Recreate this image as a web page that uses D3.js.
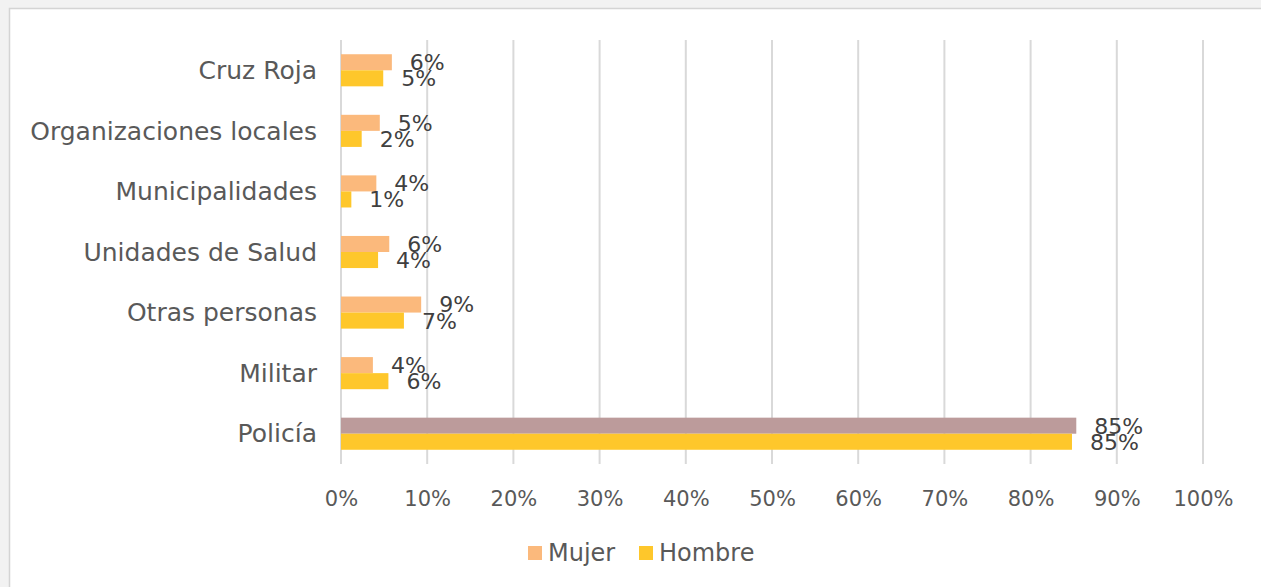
<!DOCTYPE html>
<html>
<head>
<meta charset="utf-8">
<script src="https://cdn.jsdelivr.net/npm/d3@7"></script>
<style>
    body { margin: 0; background: #f2f2f2; }
    svg { display: block; }
    text { font-family: "DejaVu Sans", sans-serif; }
</style>
</head>
<body>
<svg width="1261" height="587"></svg>
<script>
var categories = ["Cruz Roja", "Organizaciones locales", "Municipalidades", "Unidades de Salud", "Otras personas", "Militar", "Policía"];
var seriesNames = ["Mujer", "Hombre"];
var mujer = [5.9, 4.5, 4.1, 5.6, 9.3, 3.7, 85.3];
var hombre = [4.9, 2.4, 1.2, 4.3, 7.3, 5.5, 84.8];
var tickValues = [0, 10, 20, 30, 40, 50, 60, 70, 80, 90, 100];

var colors = { Mujer: "#fbb97c", Hombre: "#fec72b" };
var highlightColor = "#bc9b9b"; // Policía / Mujer bar
var highlightCategory = "Policía";

var svg = d3.select("svg");

// frame
svg.append("rect")
    .attr("x", 9.5)
    .attr("y", 8.5)
    .attr("width", 1300)
    .attr("height", 700)
    .attr("fill", "white")
    .attr("stroke", "#d4d4d4")
    .attr("stroke-width", 1.5);

var xScale = d3.scaleLinear().domain([0, 100]).range([341, 1203]);
var yScale = d3.scaleBand().domain(categories).range([40, 464]).paddingInner(0.47).paddingOuter(0.235);
var ySub = d3.scaleBand().domain(seriesNames).range([0, yScale.bandwidth()]);

// gridlines
svg.append("g")
    .selectAll("line")
    .data(tickValues)
    .enter()
    .append("line")
    .attr("x1", d => xScale(d))
    .attr("x2", d => xScale(d))
    .attr("y1", 40)
    .attr("y2", 464)
    .style("stroke", "#d9d9d9")
    .style("stroke-width", 2);

// x axis labels
var xAxis = d3.axisBottom()
    .scale(xScale)
    .tickValues(tickValues)
    .tickSize(0)
    .tickPadding(0)
    .tickFormat(d => d + "%");

var xAxisG = svg.append("g")
    .attr("transform", "translate(0,506)")
    .call(xAxis);
xAxisG.select(".domain").remove();
xAxisG.selectAll("text")
    .attr("dy", 0)
    .attr("y", 0)
    .style("font-size", "21px")
    .style("fill", "#595959")
    .style("font-family", "DejaVu Sans, sans-serif");

// y axis labels
var yAxis = d3.axisLeft()
    .scale(yScale)
    .tickSize(0)
    .tickPadding(0);

var yAxisG = svg.append("g")
    .attr("transform", "translate(317,0)")
    .call(yAxis);
yAxisG.select(".domain").remove();
yAxisG.selectAll("text")
    .attr("x", 0)
    .attr("dy", "0.35em")
    .style("font-size", "25px")
    .style("fill", "#595959")
    .style("font-family", "DejaVu Sans, sans-serif");

var rows = categories.map((c, i) => ({ category: c, Mujer: mujer[i], Hombre: hombre[i] }));

var groups = svg.append("g")
    .selectAll("g")
    .data(rows)
    .enter()
    .append("g")
    .attr("transform", d => `translate(0,${yScale(d.category)})`);

var barData = d => seriesNames.map(s => ({ category: d.category, series: s, value: d[s] }));

groups.selectAll("rect")
    .data(barData)
    .enter()
    .append("rect")
    .attr("x", xScale(0))
    .attr("y", d => ySub(d.series))
    .attr("width", d => xScale(d.value) - xScale(0))
    .attr("height", ySub.bandwidth())
    .attr("fill", d => (d.category === highlightCategory && d.series === "Mujer") ? highlightColor : colors[d.series]);

// data labels
groups.selectAll("text")
    .data(barData)
    .enter()
    .append("text")
    .attr("x", d => xScale(d.value) + 18)
    .attr("y", d => ySub(d.series) + ySub.bandwidth() / 2)
    .attr("dy", "0.36em")
    .style("font-size", "22px")
    .style("fill", "#404040")
    .text(d => Math.round(d.value) + "%");

// legend
var legend = svg.append("g")
    .selectAll("g")
    .data(seriesNames)
    .enter()
    .append("g")
    .attr("transform", (d, i) => `translate(${[528, 639][i]},546)`);

legend.append("rect")
    .attr("width", 14)
    .attr("height", 14)
    .attr("fill", d => colors[d]);

legend.append("text")
    .attr("x", 20)
    .attr("y", 15)
    .style("font-size", "24px")
    .style("fill", "#595959")
    .text(d => d);
</script>
</body>
</html>
